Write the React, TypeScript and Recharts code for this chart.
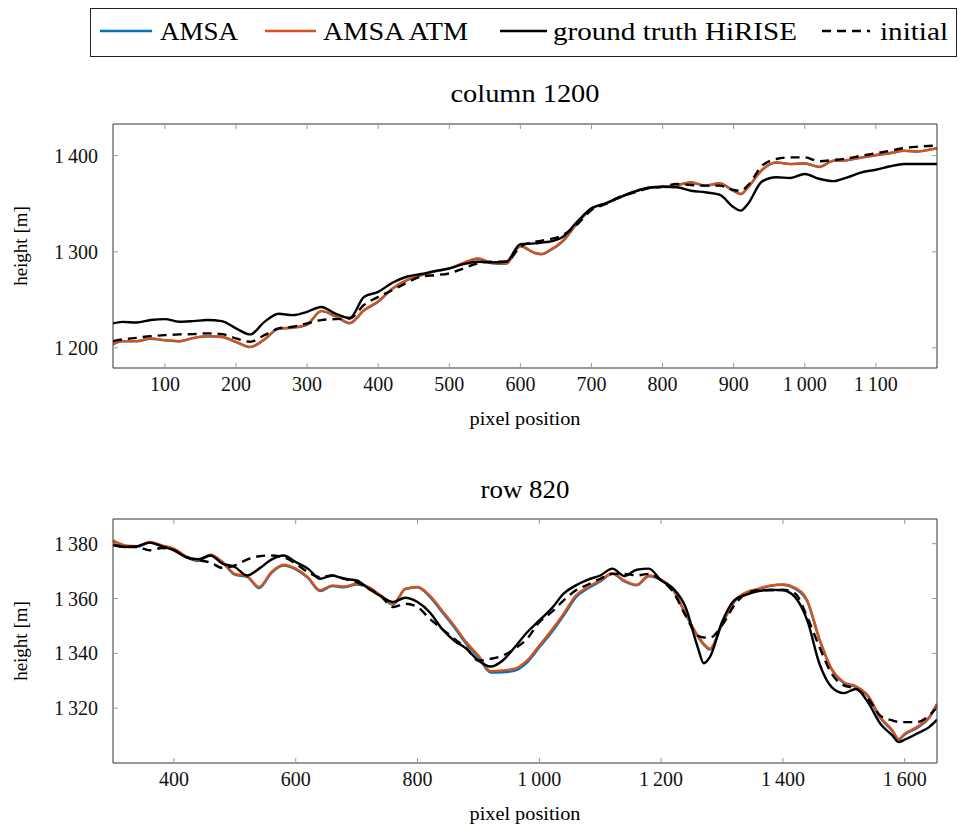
import React from "react";
import { LineChart, Line, XAxis, YAxis } from "recharts";

// column 1200
const colX = [27, 40, 60, 80, 100, 120, 140, 160, 180, 200, 220, 240, 260, 280, 300, 320, 340, 360, 380, 400, 420, 440, 460, 480, 500, 520, 540, 560, 580, 600, 620, 630, 640, 660, 680, 700, 720, 740, 760, 780, 800, 820, 840, 860, 880, 900, 910, 920, 940, 960, 980, 1000, 1020, 1040, 1060, 1080, 1100, 1120, 1140, 1160, 1180, 1186];
const colAmsa = [1203.6, 1206.7, 1206.8, 1209.5, 1207.8, 1206.7, 1210.1, 1212, 1211.2, 1206, 1200.7, 1208.6, 1219.8, 1220.9, 1224, 1238.2, 1232.6, 1225.6, 1238.8, 1248, 1261.4, 1270.1, 1275.4, 1279.6, 1282.5, 1288.2, 1292.8, 1288.1, 1287.5, 1305.7, 1298.6, 1297.4, 1300.6, 1311.1, 1329.6, 1344.8, 1350.2, 1356.5, 1362.3, 1366.5, 1367.5, 1369.3, 1372.1, 1368.6, 1371.1, 1363.3, 1360, 1366.8, 1385.2, 1392.9, 1391.2, 1391.9, 1388.3, 1394.6, 1395.3, 1398.1, 1400.5, 1402.6, 1405, 1404.4, 1406.8, 1407.5];
const colAtm = [1203.9, 1207, 1207, 1209.8, 1208, 1207, 1210.4, 1212.2, 1211.5, 1206.3, 1201, 1209, 1220.2, 1221.2, 1224.4, 1238.5, 1233, 1226, 1239.3, 1248.6, 1261.9, 1270.5, 1275.7, 1279.9, 1282.7, 1288.5, 1293.1, 1288.5, 1287.9, 1306, 1299, 1297.8, 1301, 1311.5, 1330, 1345, 1350.4, 1356.7, 1362.5, 1366.7, 1367.7, 1369.5, 1372.3, 1368.8, 1371.3, 1363.5, 1360.2, 1367, 1385.4, 1393.1, 1391.4, 1392.1, 1388.5, 1394.8, 1395.5, 1398.3, 1400.7, 1402.8, 1405.2, 1404.6, 1407, 1407.7];
const colTruth = [1225.4, 1227, 1226.4, 1228.9, 1229.9, 1227.1, 1227.8, 1228.9, 1227.8, 1220.2, 1214, 1227, 1235.4, 1234, 1237.5, 1242.5, 1235.5, 1231, 1253, 1258.3, 1267.7, 1274, 1276.8, 1279.9, 1282.7, 1287.2, 1289.6, 1289, 1289.6, 1308, 1308.7, 1309.5, 1310.4, 1315.6, 1331.3, 1345.2, 1350.4, 1356.7, 1362.5, 1366.7, 1367.7, 1367.1, 1363.5, 1361.9, 1359.4, 1346.3, 1342.8, 1349.7, 1373.3, 1377.5, 1376.8, 1381, 1376, 1373.5, 1377.5, 1382.7, 1385.4, 1389, 1391.4, 1391.4, 1391.4, 1391.4];
const colInitial = [1207, 1208.7, 1210.4, 1212.2, 1213.2, 1214, 1214.3, 1215, 1214.3, 1209.8, 1206.3, 1213.2, 1220.2, 1221.9, 1225.4, 1228.9, 1229.9, 1230.6, 1244.5, 1253, 1260, 1267.7, 1274, 1275.7, 1277.5, 1282.7, 1287.9, 1289.6, 1289.6, 1305.2, 1310.4, 1311.5, 1312.9, 1317.4, 1328.5, 1343.4, 1349.7, 1357.3, 1361.5, 1366, 1367.7, 1370.5, 1369.5, 1368.8, 1368.8, 1364.3, 1363.5, 1369, 1389.6, 1396.6, 1398.3, 1398.3, 1394.2, 1395.5, 1397.2, 1400, 1402.5, 1405.2, 1408, 1409.4, 1410.4, 1410.4];
const colTicksX = [100, 200, 300, 400, 500, 600, 700, 800, 900, 1000, 1100];
const colTicksY = [1200, 1300, 1400];

// row 820
const rowX = [300, 320, 340, 360, 380, 400, 420, 440, 460, 480, 500, 520, 540, 560, 580, 600, 620, 640, 660, 680, 700, 720, 740, 760, 780, 800, 820, 840, 860, 880, 900, 920, 940, 960, 980, 1000, 1020, 1040, 1060, 1080, 1100, 1120, 1140, 1160, 1180, 1200, 1220, 1240, 1260, 1270, 1280, 1300, 1320, 1340, 1360, 1380, 1400, 1420, 1440, 1460, 1480, 1500, 1520, 1540, 1560, 1580, 1590, 1600, 1620, 1640, 1653];
const rowAmsa = [1381, 1379.2, 1378.9, 1380.4, 1379.2, 1378, 1375.2, 1373.7, 1375.8, 1373.1, 1368.7, 1367.9, 1363.8, 1369.3, 1372, 1370.6, 1367.5, 1362.7, 1364.5, 1364.1, 1365.1, 1364, 1360.8, 1357.8, 1363.4, 1364.1, 1360.7, 1355.2, 1349.6, 1343.5, 1338.6, 1333, 1333.1, 1333.7, 1336.7, 1342.2, 1347.6, 1353.8, 1360.4, 1363.7, 1366.2, 1369, 1366.2, 1364.8, 1368.1, 1366.7, 1363, 1354.3, 1346.2, 1343.2, 1341.4, 1350.5, 1358.8, 1362.1, 1363.4, 1364.6, 1365, 1363.6, 1358.9, 1345, 1334.1, 1329.2, 1327.7, 1324.2, 1316.4, 1311.6, 1308.5, 1310.4, 1312.8, 1316.4, 1321.4];
const rowAtm = [1381.2, 1379.4, 1379.1, 1380.6, 1379.4, 1378.2, 1375.4, 1373.9, 1376, 1373.3, 1369, 1368.2, 1364.2, 1369.6, 1372.3, 1370.9, 1367.8, 1363, 1364.8, 1364.4, 1365.4, 1364.2, 1361.1, 1358.1, 1363.6, 1364.2, 1361.1, 1355.7, 1350.2, 1344.1, 1339.2, 1333.5, 1333.8, 1334.4, 1337.4, 1342.9, 1348.4, 1354.5, 1361.1, 1364.2, 1366.6, 1369.2, 1366.5, 1365, 1368.4, 1366.9, 1363.2, 1354.5, 1346.5, 1343.5, 1341.7, 1350.8, 1359, 1362.3, 1363.6, 1364.8, 1365.1, 1363.9, 1359.3, 1345.3, 1334.4, 1329.5, 1328, 1324.5, 1316.7, 1311.9, 1308.8, 1310.7, 1313.1, 1316.7, 1321.6];
const rowTruth = [1380, 1378.8, 1379.1, 1380.4, 1379.1, 1377.6, 1375.1, 1374.3, 1375.7, 1372.7, 1371.5, 1368.4, 1370.9, 1374.2, 1375.7, 1373.3, 1370.9, 1367.2, 1368.4, 1367.2, 1366.6, 1363.6, 1360.8, 1358.7, 1360.3, 1358.7, 1355, 1349, 1344.7, 1341.7, 1337.4, 1335.2, 1337.4, 1342.3, 1347.7, 1352, 1356.3, 1361.8, 1364.8, 1366.9, 1368.4, 1370.9, 1368.2, 1370.5, 1370.9, 1366.6, 1363.6, 1356.9, 1342.3, 1336.4, 1338.6, 1351.4, 1359.3, 1361.4, 1362.7, 1363.2, 1363, 1360.5, 1352, 1336.2, 1327.7, 1325.5, 1327, 1322, 1314.3, 1310, 1307.6, 1308.5, 1310.7, 1313.1, 1315.8];
const rowInitial = [1379.4, 1378.8, 1378.8, 1377.6, 1378.4, 1377.6, 1375.1, 1374, 1373.1, 1371.1, 1372.1, 1374.2, 1375.4, 1375.7, 1375.1, 1372.7, 1369.6, 1367.8, 1368.4, 1367.2, 1366, 1363.6, 1360.8, 1356.9, 1358.1, 1356.9, 1352.6, 1349, 1345.3, 1342, 1337.4, 1338, 1339.2, 1341.7, 1345.3, 1351.4, 1355, 1359.3, 1363, 1365.1, 1367.2, 1369, 1369, 1368.4, 1369, 1366.6, 1362.3, 1353.8, 1346.5, 1345.8, 1345.7, 1350.2, 1357.5, 1361.8, 1363, 1363, 1363.2, 1361.8, 1353.2, 1342.3, 1332.6, 1328.3, 1327.1, 1323.4, 1317.3, 1315.5, 1315, 1314.9, 1314.9, 1317.3, 1320.4];
const rowTicksX = [400, 600, 800, 1000, 1200, 1400, 1600];
const rowTicksY = [1320, 1340, 1360, 1380];

const FONT = "'Liberation Serif', 'DejaVu Serif', serif";
const BLUE = "#0072BD";
const ORANGE = "#D95319";

const fmt = (v: number) =>
  v >= 1000 ? `${Math.floor(v / 1000)}\u2009${String(v % 1000).padStart(3, "0")}` : String(v);

const toRows = (xs: number[], a: number[], b: number[], c: number[], d: number[]) =>
  xs.map((x, i) => ({ x, amsa: a[i], atm: b[i], truth: c[i], initial: d[i] }));

const tickStyle = { fontSize: 20, fontFamily: FONT, fill: "#111" };
const frame = { stroke: "#333", strokeWidth: 1 };
const tline = { stroke: "#999", strokeWidth: 1 };
const noLabel = () => <g />;

type PanelProps = {
  rows: ReturnType<typeof toRows>;
  xDomain: [number, number];
  yDomain: [number, number];
  xTicks: number[];
  yTicks: number[];
  top: number;
  height: number;
  marginTop: number;
  marginBottom: number;
};

const Panel = ({ rows, xDomain, yDomain, xTicks, yTicks, top, height, marginTop, marginBottom }: PanelProps) => (
  <div style={{ position: "absolute", left: 0, top, width: 959, height }}>
    <LineChart
      width={959}
      height={height}
      data={rows}
      margin={{ top: marginTop - 1, right: 21, bottom: marginBottom, left: 53 }}
    >
      <XAxis
        dataKey="x"
        type="number"
        domain={xDomain}
        allowDataOverflow
        ticks={xTicks}
        tickFormatter={fmt}
        height={30}
        tickSize={-5}
        tickMargin={14}
        axisLine={frame}
        tickLine={tline}
        tick={tickStyle}
      />
      <XAxis
        xAxisId="top"
        orientation="top"
        dataKey="x"
        type="number"
        domain={xDomain}
        allowDataOverflow
        ticks={xTicks}
        height={1}
        tickSize={-5}
        axisLine={frame}
        tickLine={tline}
        tick={noLabel}
      />
      <YAxis
        type="number"
        domain={yDomain}
        allowDataOverflow
        ticks={yTicks}
        tickFormatter={fmt}
        width={60}
        tickSize={-5}
        tickMargin={20}
        axisLine={frame}
        tickLine={tline}
        tick={tickStyle}
      />
      <YAxis
        yAxisId="right"
        orientation="right"
        type="number"
        domain={yDomain}
        allowDataOverflow
        ticks={yTicks}
        width={1}
        tickSize={-5}
        axisLine={frame}
        tickLine={tline}
        tick={noLabel}
      />
      <Line dataKey="amsa" type="monotone" stroke={BLUE} strokeWidth={2.4} dot={false} isAnimationActive={false} />
      <Line dataKey="atm" type="monotone" stroke={ORANGE} strokeWidth={2.4} dot={false} isAnimationActive={false} />
      <Line dataKey="truth" type="monotone" stroke="#000" strokeWidth={2.4} dot={false} isAnimationActive={false} />
      <Line
        dataKey="initial"
        type="monotone"
        stroke="#000"
        strokeWidth={2.4}
        strokeDasharray="9 6"
        dot={false}
        isAnimationActive={false}
      />
      {/* invisible series so the mirrored axes get drawn */}
      <Line
        dataKey="truth"
        xAxisId="top"
        yAxisId="right"
        stroke="none"
        dot={false}
        activeDot={false}
        legendType="none"
        isAnimationActive={false}
      />
    </LineChart>
  </div>
);

const legendItems = [
  { label: "AMSA", color: BLUE, x1: 100, x2: 152, tx: 160, len: 78, dash: undefined },
  { label: "AMSA ATM", color: ORANGE, x1: 265, x2: 316, tx: 323, len: 145, dash: undefined },
  { label: "ground truth HiRISE", color: "#000", x1: 500, x2: 547, tx: 553, len: 244, dash: undefined },
  { label: "initial", color: "#000", x1: 822, x2: 870, tx: 880, len: 68, dash: "9 6" },
];

export default function App() {
  return (
    <div style={{ position: "absolute", left: 0, top: 0, width: 959, height: 829, background: "#fff" }}>
      <Panel
        rows={toRows(colX, colAmsa, colAtm, colTruth, colInitial)}
        xDomain={[27, 1186]}
        yDomain={[1179, 1433]}
        xTicks={colTicksX}
        yTicks={colTicksY}
        top={0}
        height={450}
        marginTop={124}
        marginBottom={52}
      />
      <Panel
        rows={toRows(rowX, rowAmsa, rowAtm, rowTruth, rowInitial)}
        xDomain={[300, 1653]}
        yDomain={[1300, 1389]}
        xTicks={rowTicksX}
        yTicks={rowTicksY}
        top={440}
        height={389}
        marginTop={79}
        marginBottom={36}
      />
      <svg
        width={959}
        height={829}
        style={{ position: "absolute", left: 0, top: 0, pointerEvents: "none" }}
        fontFamily={FONT}
      >
        <rect x={90.5} y={8.5} width={866} height={48} fill="#fff" stroke="#222" strokeWidth={1} />
        {legendItems.map((it) => (
          <g key={it.label}>
            <line x1={it.x1} x2={it.x2} y1={31} y2={31} stroke={it.color} strokeWidth={2.6} strokeDasharray={it.dash} />
            <text x={it.tx} y={40} fontSize={26} fill="#000" textLength={it.len} lengthAdjust="spacingAndGlyphs">
              {it.label}
            </text>
          </g>
        ))}
        <text x={525} y={102} fontSize={26} textAnchor="middle" fill="#000" textLength={149} lengthAdjust="spacingAndGlyphs">
          column 1200
        </text>
        <text x={525} y={498} fontSize={26} textAnchor="middle" fill="#000" textLength={89} lengthAdjust="spacingAndGlyphs">
          row 820
        </text>
        <text x={525} y={425} fontSize={19} textAnchor="middle" fill="#000" textLength={111} lengthAdjust="spacingAndGlyphs">
          pixel position
        </text>
        <text x={525} y={820} fontSize={19} textAnchor="middle" fill="#000" textLength={111} lengthAdjust="spacingAndGlyphs">
          pixel position
        </text>
        <text x={27} y={246} fontSize={19} textAnchor="middle" fill="#000" transform="rotate(-90 27 246)">
          height [m]
        </text>
        <text x={27} y={641} fontSize={19} textAnchor="middle" fill="#000" transform="rotate(-90 27 641)">
          height [m]
        </text>
      </svg>
    </div>
  );
}
